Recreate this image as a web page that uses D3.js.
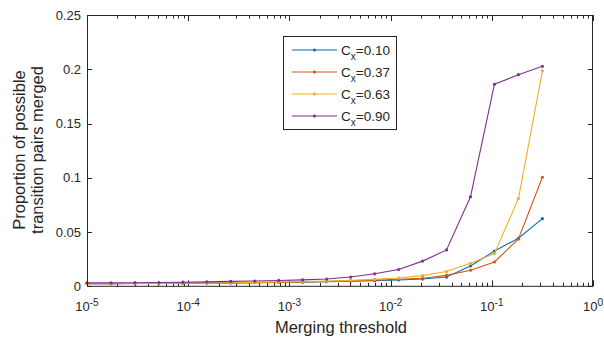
<!DOCTYPE html>
<html>
<head>
<meta charset="utf-8">
<script src="https://cdn.jsdelivr.net/npm/d3@7"></script>
<style>
  body { margin: 0; background: #fff; }
  svg { display: block; font-family: "Liberation Sans", Arial, sans-serif; }
</style>
</head>
<body>
<svg id="chart" width="604" height="337"></svg>
<script>
// merging thresholds (x values)
var thresholds = [1.000e-5, 1.726e-5, 2.976e-5, 5.134e-5, 8.859e-5, 1.528e-4, 2.637e-4, 4.550e-4,
                  7.848e-4, 1.354e-3, 2.336e-3, 4.030e-3, 6.952e-3, 1.199e-2, 2.069e-2, 3.570e-2,
                  6.158e-2, 1.062e-1, 1.833e-1, 3.162e-1];

var seriesNames = ["0.10", "0.37", "0.63", "0.90"];
var seriesColors = ["#0072BD", "#D95319", "#EDB120", "#7E2F8E"];

var cx010 = [0.0025, 0.0025, 0.0026, 0.0027, 0.0028, 0.0030, 0.0031, 0.0033, 0.0035, 0.0038,
             0.0042, 0.0047, 0.0052, 0.0058, 0.0067, 0.0085, 0.0187, 0.0325, 0.0443, 0.0623];
var cx037 = [0.0025, 0.0025, 0.0026, 0.0027, 0.0029, 0.0030, 0.0032, 0.0034, 0.0037, 0.0040,
             0.0044, 0.0050, 0.0057, 0.0065, 0.0074, 0.0101, 0.0148, 0.0224, 0.0436, 0.1005];
var cx063 = [0.0026, 0.0026, 0.0027, 0.0028, 0.0030, 0.0031, 0.0033, 0.0036, 0.0039, 0.0043,
             0.0048, 0.0055, 0.0064, 0.0076, 0.0098, 0.0136, 0.0212, 0.0301, 0.0808, 0.1985];
var cx090 = [0.0032, 0.0032, 0.0033, 0.0035, 0.0038, 0.0041, 0.0045, 0.0049, 0.0054, 0.0059,
             0.0067, 0.0085, 0.0115, 0.0155, 0.0232, 0.0335, 0.0825, 0.1862, 0.1950, 0.2027];
var allSeries = [cx010, cx037, cx063, cx090];

var xTickExps = [-5, -4, -3, -2, -1, 0];
var yTicks = [0, 0.05, 0.1, 0.15, 0.2, 0.25];

// plot box (note: "top" is reserved on window, so use box* names)
var boxLeft = 87, boxRight = 593, boxTop = 15, boxBottom = 286.3;
var axisColor = "#262626";

var svg = d3.select("#chart");

var xScale = d3.scaleLog().domain([1e-5, 1]).range([boxLeft, boxRight]);
var yScale = d3.scaleLinear().domain([0, 0.25]).range([boxBottom, boxTop]);

// minor x ticks
var minorTicks = [];
xTickExps.slice(0, -1).forEach(function(e){
    for (var m = 2; m <= 9; m++) minorTicks.push(m * Math.pow(10, e));
});

var ticks = svg.append("g").attr("stroke", axisColor).attr("stroke-width", 1);

minorTicks.forEach(function(v){
    var x = Math.round(xScale(v)) + 0.5;
    ticks.append("line").attr("x1", x).attr("x2", x).attr("y1", boxBottom).attr("y2", boxBottom - 3.5);
    ticks.append("line").attr("x1", x).attr("x2", x).attr("y1", boxTop).attr("y2", boxTop + 3.5);
});
xTickExps.forEach(function(e){
    var x = Math.round(xScale(Math.pow(10, e))) + 0.5;
    ticks.append("line").attr("x1", x).attr("x2", x).attr("y1", boxBottom).attr("y2", boxBottom - 6);
    ticks.append("line").attr("x1", x).attr("x2", x).attr("y1", boxTop).attr("y2", boxTop + 6);
});
yTicks.forEach(function(v){
    var y = Math.round(yScale(v)) + 0.5;
    ticks.append("line").attr("x1", boxLeft).attr("x2", boxLeft + 5).attr("y1", y).attr("y2", y);
    ticks.append("line").attr("x1", boxRight).attr("x2", boxRight - 5).attr("y1", y).attr("y2", y);
});

// lines
var line = d3.line()
    .x(function(d, i){ return xScale(thresholds[i]); })
    .y(function(d){ return yScale(d); });

allSeries.forEach(function(s, si){
    var g = svg.append("g");
    g.append("path")
        .attr("d", line(s))
        .attr("fill", "none")
        .attr("stroke", seriesColors[si])
        .attr("stroke-width", 1.1);
    g.selectAll("circle")
        .data(s).enter()
        .append("circle")
        .attr("cx", function(d, i){ return xScale(thresholds[i]); })
        .attr("cy", function(d){ return yScale(d); })
        .attr("r", 1.6)
        .attr("fill", seriesColors[si]);
});

// axes border
svg.append("rect")
    .attr("x", boxLeft + 0.5).attr("y", boxTop + 0.5)
    .attr("width", boxRight - boxLeft - 1).attr("height", boxBottom - boxTop - 0.5)
    .attr("fill", "none").attr("stroke", axisColor).attr("stroke-width", 1);

// y tick labels
svg.append("g").selectAll("text")
    .data(yTicks).enter()
    .append("text")
    .attr("x", boxLeft - 6)
    .attr("y", function(d){ return yScale(d); })
    .attr("dy", "0.36em")
    .attr("text-anchor", "end")
    .attr("font-size", 13)
    .attr("fill", axisColor)
    .text(function(d){ return d === 0 ? "0" : String(d); });

// x tick labels with superscripts
var xl = svg.append("g").selectAll("text")
    .data(xTickExps).enter()
    .append("text")
    .attr("x", function(d){ return xScale(Math.pow(10, d)); })
    .attr("y", 310.5)
    .attr("text-anchor", "middle")
    .attr("font-size", 13)
    .attr("fill", axisColor);
xl.append("tspan").text("10");
xl.append("tspan")
    .attr("font-size", 10)
    .attr("dy", -4.8)
    .text(function(d){ return d === 0 ? "0" : "-" + Math.abs(d); });

// axis labels
svg.append("text")
    .attr("x", 341).attr("y", 333)
    .attr("text-anchor", "middle")
    .attr("font-size", 16.5)
    .attr("fill", axisColor)
    .text("Merging threshold");

var yl = svg.append("text")
    .attr("transform", "translate(0,150) rotate(-90)")
    .attr("text-anchor", "middle")
    .attr("font-size", 16.5)
    .attr("fill", axisColor);
yl.append("tspan").attr("x", 0).attr("y", 25).text("Proportion of possible");
yl.append("tspan").attr("x", 0).attr("y", 43).text("transition pairs merged");

// legend
var legend = svg.append("g");
legend.append("rect")
    .attr("x", 283.5).attr("y", 36.5)
    .attr("width", 113).attr("height", 93)
    .attr("fill", "#fff").attr("stroke", axisColor).attr("stroke-width", 1);

seriesNames.forEach(function(name, i){
    var y = 50 + i * 22;
    legend.append("line")
        .attr("x1", 292).attr("x2", 337).attr("y1", y).attr("y2", y)
        .attr("stroke", seriesColors[i]).attr("stroke-width", 1.1);
    legend.append("circle")
        .attr("cx", 314.5).attr("cy", y).attr("r", 1.6)
        .attr("fill", seriesColors[i]);
    var t = legend.append("text")
        .attr("x", 341).attr("y", y + 5)
        .attr("font-size", 13.5)
        .attr("fill", axisColor);
    t.append("tspan").text("C");
    t.append("tspan").attr("font-size", 10).attr("dy", 5).text("x");
    t.append("tspan").attr("dy", -5).text("=" + name);
});
</script>
</body>
</html>
